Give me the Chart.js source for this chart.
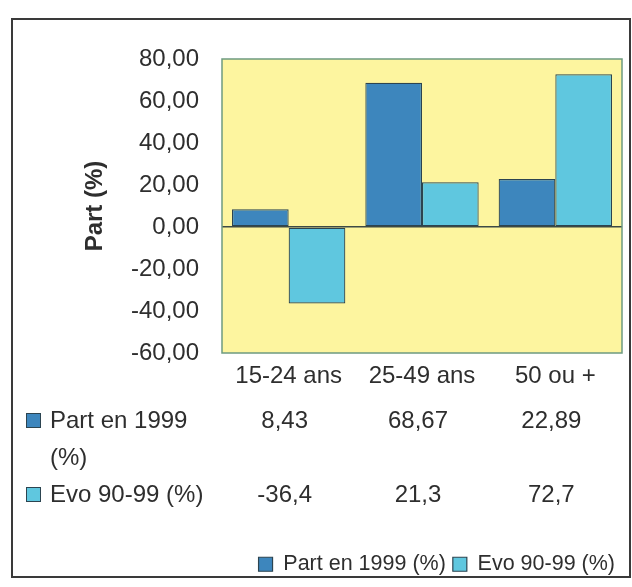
<!DOCTYPE html>
<html>
<head>
<meta charset="utf-8">
<script src="https://cdn.jsdelivr.net/npm/chart.js@4.4.0/dist/chart.umd.min.js"></script>
<style>
  html, body { margin: 0; padding: 0; background: #ffffff; }
  #wrap { position: relative; width: 632px; height: 587px; }
  #c { position: absolute; left: 0; top: 0; }
  #frame {
    position: absolute; left: 11px; top: 18px;
    width: 616px; height: 556px;
    border: 2px solid #3a3a3a; pointer-events: none;
  }
</style>
</head>
<body>
<div id="wrap">
  <canvas id="c" width="632" height="587" style="width:632px;height:587px"></canvas>
  <div id="frame"></div>
</div>
<script>
// Age groups and the two series shown as bars and in the data table
const categories = ['15-24 ans', '25-49 ans', '50 ou +'];
const partLabel = 'Part en 1999 (%)';
const partValues = [8.43, 68.67, 22.89];
const evoLabel = 'Evo 90-99 (%)';
const evoValues = [-36.4, 21.3, 72.7];
const yAxisTitle = 'Part (%)';
const yMin = -60, yMax = 80, yStep = 20;

const FONT = '"Liberation Sans", Arial, Helvetica, sans-serif';
const TEXT = '#2e2e2e';
const DARK = '#3d86bd';
const LIGHT = '#5fc7df';
const EDGE = '#2c4450';
const PLOT_BG = '#fdf59f';
const PLOT_EDGE = '#6d9a80';

// French decimal comma
const fmt = (v, d) => v.toFixed(d).replace('.', ',');

// Plot background, plot frame and the data table under the category labels
const plotDecor = {
  id: 'plotDecor',
  beforeDraw(chart) {
    const { ctx, chartArea: a } = chart;
    ctx.save();
    ctx.fillStyle = PLOT_BG;
    ctx.fillRect(a.left, a.top, a.right - a.left, a.bottom - a.top);
    ctx.restore();
  },
  afterDraw(chart) {
    const { ctx, chartArea: a } = chart;
    ctx.save();
    ctx.strokeStyle = PLOT_EDGE;
    ctx.lineWidth = 1.5;
    ctx.strokeRect(a.left, a.top, a.right - a.left, a.bottom - a.top);

    const xs = chart.scales.x;
    const rows = [
      { ds: chart.data.datasets[0], decimals: 2, y: 421 },
      { ds: chart.data.datasets[1], decimals: 1, y: 495 }
    ];
    ctx.font = '24px ' + FONT;
    ctx.textBaseline = 'middle';
    rows.forEach(row => {
      // values, one per category column
      ctx.textAlign = 'center';
      ctx.fillStyle = TEXT;
      row.ds.data.forEach((v, i) => {
        ctx.fillText(fmt(v, row.decimals), xs.getPixelForValue(i) - 4, row.y);
      });
      // row header: swatch + wrapped series name
      ctx.fillStyle = row.ds.backgroundColor;
      ctx.fillRect(26, row.y - 8, 15, 15);
      ctx.strokeStyle = row.ds.borderColor;
      ctx.lineWidth = 1;
      ctx.strokeRect(26.5, row.y - 7.5, 14, 14);
      ctx.fillStyle = TEXT;
      ctx.textAlign = 'left';
      const words = row.ds.label.split(' ');
      const lines = [];
      let cur = '';
      words.forEach(w => {
        const t = cur ? cur + ' ' + w : w;
        if (ctx.measureText(t).width > 165 && cur) { lines.push(cur); cur = w; }
        else cur = t;
      });
      lines.push(cur);
      lines.forEach((ln, k) => ctx.fillText(ln, 50, row.y + k * 37));
    });
    ctx.restore();
  }
};

new Chart(document.getElementById('c'), {
  type: 'bar',
  data: {
    labels: categories,
    datasets: [
      { label: partLabel, data: partValues, backgroundColor: DARK, borderColor: EDGE,
        borderWidth: 1.2, borderSkipped: false },
      { label: evoLabel, data: evoValues, backgroundColor: LIGHT, borderColor: EDGE,
        borderWidth: 1.2, borderSkipped: false }
    ]
  },
  options: {
    responsive: false,
    animation: false,
    devicePixelRatio: 1,
    layout: { padding: { top: 59, left: 81, right: 10, bottom: 2 } },
    datasets: { bar: { categoryPercentage: 0.85, barPercentage: 1.0 } },
    plugins: {
      tooltip: { enabled: false },
      legend: {
        position: 'bottom',
        align: 'end',
        labels: {
          color: TEXT,
          font: { family: FONT, size: 21.5 },
          boxWidth: 14, boxHeight: 14, padding: 7
        }
      }
    },
    scales: {
      x: {
        grid: { display: false, drawTicks: false },
        border: { display: false },
        ticks: { color: TEXT, font: { family: FONT, size: 24 }, padding: 9, maxRotation: 0 },
        afterFit(s) { s.height = 193.5; }
      },
      y: {
        min: yMin, max: yMax,
        grid: {
          drawTicks: false,
          lineWidth: 1.5,
          color: c => (c.tick && c.tick.value === 0 ? '#3d4a45' : 'rgba(0,0,0,0)')
        },
        border: { display: false },
        ticks: {
          stepSize: yStep, color: TEXT, padding: 23,
          font: { family: FONT, size: 24 },
          callback: v => fmt(v, 2)
        },
        title: {
          display: true, text: yAxisTitle, color: TEXT,
          font: { family: FONT, size: 24, weight: 'bold' },
          padding: { top: 0, bottom: 0 }
        },
        afterFit(s) { s.width = 141; }
      }
    }
  },
  plugins: [plotDecor]
});
</script>
</body>
</html>
